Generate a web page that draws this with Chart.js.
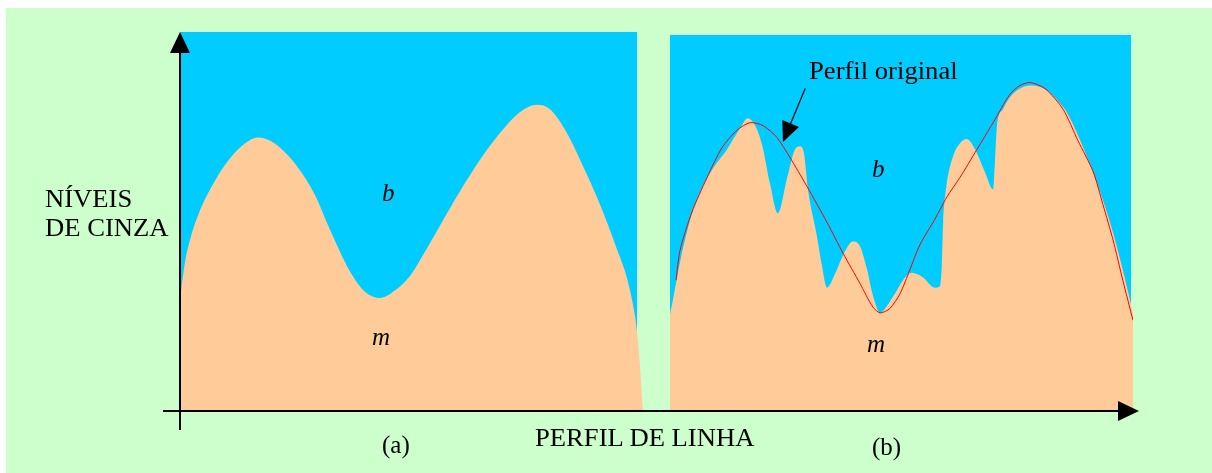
<!DOCTYPE html>
<html>
<head>
<meta charset="utf-8">
<script src="https://cdn.jsdelivr.net/npm/chart.js"></script>
<style>
  body { margin: 0; background: #fff; }
  #wrap { position: relative; width: 1212px; height: 473px; }
  .lbl { position: absolute; font-family: "Liberation Serif", "Times New Roman", serif; font-size: 25px; line-height: 25px; color: #000; white-space: nowrap; }
  .wide { transform: scaleX(1.065); transform-origin: left center; }
  .it { font-style: italic; }
</style>
</head>
<body>
<div id="wrap">
  <canvas id="perfil" width="1212" height="473"></canvas>
  <div class="lbl wide" style="left:45px; top:186px;">NÍVEIS</div>
  <div class="lbl wide" style="left:45px; top:215px;">DE CINZA</div>
  <div class="lbl wide" style="left:535px; top:425px;">PERFIL DE LINHA</div>
  <div class="lbl" style="left:382px; top:432px;">(a)</div>
  <div class="lbl" style="left:872px; top:434px;">(b)</div>
  <div class="lbl it" style="left:382px; top:180px;">b</div>
  <div class="lbl it" style="left:372px; top:324px;">m</div>
  <div class="lbl it" style="left:872px; top:156px;">b</div>
  <div class="lbl it" style="left:867px; top:331px;">m</div>
  <div class="lbl wide" style="left:809px; top:58px;">Perfil original</div>
</div>
<script>
// posicao ao longo do perfil (0..100) e nivel de cinza (0..255)

// (a) perfil suavizado
const posA = [0, 1.08, 2.16, 4.32, 7.56, 10.8, 14.0, 16.8, 19.4, 22.7, 25.9, 29.2, 32.4, 36.7, 40.0, 43.2,
  46.4, 49.7, 52.5, 56.2, 60.5, 64.8, 69.1, 73.4, 77.1, 79.9, 83.2, 86.4, 90.7, 94.0, 97.2, 98.9, 100];
const levelA = [75, 100, 115, 135, 155, 170, 180, 184, 182, 174, 162, 145, 122, 94, 80, 76,
  81, 91, 105, 125, 148, 169, 187, 201, 206, 203, 189, 169, 139, 112, 81, 48, 0];

// (b) perfil com ruido
const posB = [0, 0.65, 2.16, 4.97, 8.64, 12.3, 15.1, 16.8, 18.4, 19.9, 21.6, 23.3, 25.3, 27.0, 28.1, 28.9,
  29.8, 31.7, 32.8, 33.9, 35.6, 37.4, 39.5, 41.0, 42.5, 43.8, 45.4, 46.9, 48.6, 50.8, 52.3, 54.6, 57.2,
  58.3, 58.7, 59.0, 59.6, 61.1, 62.6, 64.1, 65.9, 68.0, 69.8, 70.2, 70.6, 71.9, 73.4, 75.6, 77.8, 79.9,
  82.1, 84.2, 85.7, 88.6, 91.4, 93.5, 95.7, 97.8, 100];
const levelB = [65, 75, 100, 135, 160, 176, 190, 197, 192, 179, 153, 133, 157, 176, 178, 174,
  149, 118, 98, 83, 92, 105, 114, 111, 96, 78, 66, 71, 79, 90, 93, 90, 83,
  84, 98, 127, 149, 171, 180, 183, 176, 161, 149, 169, 191, 203, 211, 217, 219, 218,
  214, 207, 201, 182, 160, 142, 120, 95, 66];

// (b) perfil original (linha vermelha)
const posOrig = [1.3, 2.16, 4.75, 7.99, 11.2, 14.5, 17.3, 20.1, 23.1, 26.6, 29.6, 33.9, 37.4, 41.0, 43.8,
  45.4, 47.5, 49.7, 51.8, 54.0, 57.2, 59.8, 62.6, 66.3, 69.8, 73.4, 75.6, 77.8, 81.0, 84.9, 88.1, 91.4,
  93.5, 95.7, 97.8, 100];
const levelOrig = [88, 108, 134, 157, 177, 189, 194, 192, 184, 167, 151, 127, 106, 86, 70,
  66, 69, 79, 95, 112, 129, 144, 157, 176, 194, 213, 219, 221, 217, 203, 182, 161,
  139, 115, 88, 61];

// fundo (b) de cada painel
const fundoA = [[0, 255], [98.7, 255]];
const fundoB = [[0, 253], [99.6, 253]];

const areaLeft = 180, areaRight = 1133, areaTop = 32, areaBottom = 411;
const panelW = 463, leftB = 670;
const areaW = areaRight - areaLeft;

function pts(xs, ys) {
  return xs.map((x, i) => ({ x: x, y: ys[i] }));
}
function pairs(arr) {
  return arr.map(p => ({ x: p[0], y: p[1] }));
}

const clear = 'rgba(0,0,0,0)';

const fundo = {
  id: 'fundo',
  beforeDraw(chart) {
    const c = chart.ctx;
    c.save();
    c.fillStyle = '#ffffff';
    c.fillRect(0, 0, chart.width, chart.height);
    c.fillStyle = '#CCFFCC';
    c.fillRect(6, 8, chart.width - 6, chart.height - 8);
    c.restore();
  }
};

const eixos = {
  id: 'eixos',
  afterDatasetsDraw(chart) {
    const c = chart.ctx;
    const a = chart.chartArea;
    c.save();
    c.strokeStyle = '#000';
    c.fillStyle = '#000';
    c.lineWidth = 2;
    // eixo vertical
    c.beginPath();
    c.moveTo(a.left, a.bottom + 19);
    c.lineTo(a.left, a.top + 18);
    c.stroke();
    c.beginPath();
    c.moveTo(a.left, a.top);
    c.lineTo(a.left - 10, a.top + 21);
    c.lineTo(a.left + 10, a.top + 21);
    c.closePath();
    c.fill();
    // eixo horizontal
    c.beginPath();
    c.moveTo(a.left - 17, a.bottom);
    c.lineTo(a.right - 12, a.bottom);
    c.stroke();
    c.beginPath();
    c.moveTo(a.right + 6, a.bottom);
    c.lineTo(a.right - 15, a.bottom - 10);
    c.lineTo(a.right - 15, a.bottom + 10);
    c.closePath();
    c.fill();
    // seta "Perfil original"
    const xb = chart.scales.xb, y = chart.scales.y;
    const x1 = xb.getPixelForValue(29.2), y1 = y.getPixelForValue(217);
    const x2 = xb.getPixelForValue(24.4), y2 = y.getPixelForValue(181);
    const ang = Math.atan2(y2 - y1, x2 - x1);
    c.lineWidth = 1.2;
    c.beginPath();
    c.moveTo(x1, y1);
    c.lineTo(x2 - 16 * Math.cos(ang), y2 - 16 * Math.sin(ang));
    c.stroke();
    c.beginPath();
    c.moveTo(x2, y2);
    c.lineTo(x2 - 20 * Math.cos(ang) + 9 * Math.sin(ang), y2 - 20 * Math.sin(ang) - 9 * Math.cos(ang));
    c.lineTo(x2 - 20 * Math.cos(ang) - 9 * Math.sin(ang), y2 - 20 * Math.sin(ang) + 9 * Math.cos(ang));
    c.closePath();
    c.fill();
    c.restore();
  }
};

const ctx = document.getElementById('perfil');
const chart = new Chart(ctx, {
  type: 'line',
  data: {
    datasets: [
      {
        label: 'Perfil original',
        xAxisID: 'xb',
        data: pts(posOrig, levelOrig),
        borderColor: '#FF0000',
        borderWidth: 1,
        pointRadius: 0,
        fill: false,
        tension: 0.25,
        order: 0
      },
      {
        label: 'm (a)',
        xAxisID: 'xa',
        data: pts(posA, levelA),
        borderColor: clear,
        backgroundColor: '#FFCC99',
        pointRadius: 0,
        fill: 'origin',
        cubicInterpolationMode: 'monotone',
        order: 1
      },
      {
        label: 'm (b)',
        xAxisID: 'xb',
        data: pts(posB, levelB),
        borderColor: clear,
        backgroundColor: '#FFCC99',
        pointRadius: 0,
        fill: 'origin',
        cubicInterpolationMode: 'monotone',
        order: 1
      },
      {
        label: 'b (a)',
        xAxisID: 'xa',
        data: pairs(fundoA),
        borderColor: clear,
        backgroundColor: '#00CCFF',
        pointRadius: 0,
        fill: 'origin',
        order: 2
      },
      {
        label: 'b (b)',
        xAxisID: 'xb',
        data: pairs(fundoB),
        borderColor: clear,
        backgroundColor: '#00CCFF',
        pointRadius: 0,
        fill: 'origin',
        order: 2
      }
    ]
  },
  options: {
    responsive: false,
    animation: false,
    events: [],
    layout: {
      padding: { left: areaLeft, right: 1212 - areaRight, top: areaTop, bottom: 473 - areaBottom }
    },
    scales: {
      xa: { type: 'linear', display: false, min: 0, max: areaW / panelW * 100 },
      xb: { type: 'linear', display: false, min: -(leftB - areaLeft) / panelW * 100, max: (areaRight - leftB) / panelW * 100 },
      y: { type: 'linear', display: false, min: 0, max: 255 }
    },
    plugins: {
      legend: { display: false },
      tooltip: { enabled: false }
    }
  },
  plugins: [fundo, eixos]
});
</script>
</body>
</html>
